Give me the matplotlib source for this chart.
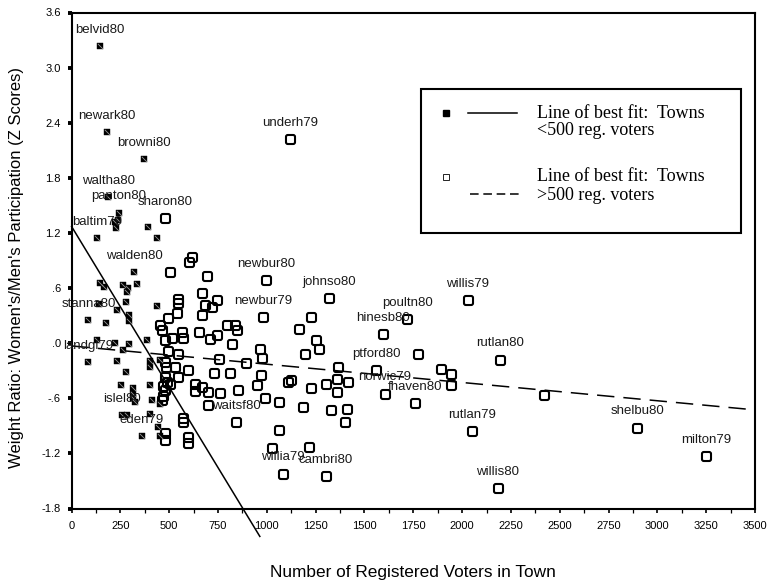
import numpy as np
import matplotlib
matplotlib.use('Agg')
import matplotlib.pyplot as plt
from matplotlib.path import Path
from matplotlib.patches import Rectangle
from matplotlib.lines import Line2D

plt.rcParams['font.family'] = ['Liberation Sans', 'DejaVu Sans']
plt.rcParams['lines.scale_dashes'] = False

# Towns with fewer than 500 registered voters (filled squares)
small_x = [146, 182, 373, 188, 243, 240, 223, 225, 129, 391, 436, 322, 146, 166,
           265, 291, 282, 337, 141, 279, 234, 436, 86, 174, 294, 296, 385, 129,
           223, 296, 265, 86, 233, 279, 402, 402, 453, 251, 402, 313, 315, 313,
           325, 410, 453, 257, 286, 402, 444, 358, 453]
small_y = [3.23, 2.30, 2.00, 1.59, 1.42, 1.34, 1.32, 1.25, 1.14, 1.27, 1.14, 0.77,
           0.66, 0.61, 0.63, 0.60, 0.56, 0.64, 0.43, 0.45, 0.36, 0.40, 0.25, 0.22,
           0.31, 0.24, 0.03, 0.03, 0.00, -0.01, -0.07, -0.21, -0.19, -0.31, -0.19,
           -0.26, -0.18, -0.45, -0.45, -0.49, -0.55, -0.60, -0.64, -0.62, -0.66,
           -0.78, -0.78, -0.77, -0.91, -1.01, -1.01]
small_labels = {0: 'belvid80', 1: 'newark80', 2: 'browni80', 3: 'waltha80',
                4: 'panton80', 8: 'baltim79', 11: 'walden80', 22: 'stanna80',
                31: 'landgl79', 45: 'islel80', 49: 'eden79'}

# Towns with more than 500 registered voters (open squares)
large_x = [1121, 478, 616, 601, 504, 694, 997, 667, 547, 547, 744, 683, 717, 538,
           666, 981, 495, 452, 461, 566, 652, 794, 836, 846, 512, 572, 478, 744,
           708, 824, 964, 495, 546, 754, 973, 892, 478, 597, 729, 811, 972, 529,
           486, 947, 853, 631, 631, 666, 700, 759, 990, 700, 1061, 469, 461, 504,
           478, 487, 469, 478, 546, 568, 568, 844, 1061, 478, 478, 597, 597, 1024,
           1215, 1083, 1302, 1319, 1225, 1164, 1251, 1267, 1194, 1123, 1109, 1183,
           1365, 1360, 1416, 1305, 1357, 1225, 1331, 1408, 1399, 1595, 1720, 2030,
           1774, 1561, 1894, 1945, 1945, 1604, 1757, 2052, 2183, 2192, 2417, 2897,
           3250]
large_y = [2.22, 1.36, 0.94, 0.88, 0.77, 0.73, 0.69, 0.55, 0.48, 0.44, 0.47, 0.42,
           0.39, 0.33, 0.31, 0.28, 0.27, 0.20, 0.14, 0.12, 0.12, 0.20, 0.20, 0.14,
           0.06, 0.06, 0.03, 0.09, 0.05, -0.01, -0.06, -0.09, -0.12, -0.17, -0.16,
           -0.22, -0.20, -0.29, -0.32, -0.33, -0.35, -0.26, -0.26, -0.46, -0.51,
           -0.44, -0.52, -0.48, -0.53, -0.54, -0.60, -0.67, -0.64, -0.58, -0.62,
           -0.44, -0.37, -0.42, -0.47, -0.51, -0.37, -0.82, -0.86, -0.86, -0.94,
           -0.98, -1.05, -1.02, -1.09, -1.14, -1.13, -1.42, -1.45, 0.49, 0.28, 0.15,
           0.03, -0.06, -0.12, -0.40, -0.42, -0.69, -0.26, -0.39, -0.42, -0.44,
           -0.53, -0.49, -0.73, -0.72, -0.86, 0.10, 0.26, 0.47, -0.12, -0.29, -0.28,
           -0.34, -0.46, -0.55, -0.65, -0.96, -1.58, -0.18, -0.56, -0.92, -1.23]
large_labels = {0: 'underh79', 1: 'sharon80', 6: 'newbur80', 15: 'newbur79',
                63: 'waitsf80', 71: 'willia79', 72: 'cambri80', 73: 'johnso80',
                91: 'hinesb80', 92: 'poultn80', 93: 'willis79', 95: 'ptford80',
                99: 'norwic79', 100: 'fhaven80', 101: 'rutlan79', 102: 'willis80',
                103: 'rutlan80', 105: 'shelbu80', 106: 'milton79'}

# Lines of best fit: intercept, slope, x range
fit_small = (1.27, -0.00350, 0, 964)
fit_large = (-0.03, -0.000199, 0, 3500)

x_ticks = list(range(0, 3501, 250))
y_ticks = [3.6, 3.0, 2.4, 1.8, 1.2, 0.6, 0.0, -0.6, -1.2, -1.8]
y_tick_labels = ['3.6', '3.0', '2.4', '1.8', '1.2', '.6', '.0', '-.6', '-1.2', '-1.8']

W, H = 770, 582


def fig_xy(px, py):
    return px / W, 1 - py / H


# rounded square marker
r = 0.4
verts = [(-1 + r, -1), (1 - r, -1), (1, -1), (1, -1 + r), (1, 1 - r), (1, 1),
         (1 - r, 1), (-1 + r, 1), (-1, 1), (-1, 1 - r), (-1, -1 + r), (-1, -1),
         (-1 + r, -1), (-1 + r, -1)]
codes = [Path.MOVETO, Path.LINETO, Path.CURVE3, Path.CURVE3, Path.LINETO,
         Path.CURVE3, Path.CURVE3, Path.LINETO, Path.CURVE3, Path.CURVE3,
         Path.LINETO, Path.CURVE3, Path.CURVE3, Path.CLOSEPOLY]
round_sq = Path(verts, codes)
diag = Path([(-1, 1), (1, -1)], [Path.MOVETO, Path.LINETO])

fig = plt.figure(figsize=(W / 100, H / 100), dpi=100)
ax = fig.add_axes([71.6 / W, 1 - 508.5 / H, (755 - 71.6) / W, (508.5 - 12.5) / H])

# fit lines
b, m, x0, x1 = fit_small
xs = np.array([x0, x1])
ax.plot(xs, b + m * xs, color='black', lw=1.1, clip_on=False, zorder=2)
b, m, x0, x1 = fit_large
xs = np.array([x0, x1])
ax.plot(xs, b + m * xs, color='black', lw=1.1, linestyle=(0, (12.5, 6.5)), zorder=2)

# points
ax.plot(small_x, small_y, linestyle='none', marker='s', ms=5.0, mfc='black',
        mec='black', mew=0.3, zorder=3)
ax.plot(small_x, small_y, linestyle='none', marker=diag, ms=3.9, mec='#9a9a9a',
        mew=0.6, zorder=4)
ax.plot(large_x, large_y, linestyle='none', marker=round_sq, ms=6.5, mfc='none',
        mec='black', mew=1.5, zorder=3)

for labels, xv, yv in [(small_labels, small_x, small_y), (large_labels, large_x, large_y)]:
    for i, name in labels.items():
        ax.annotate(name, (xv[i], yv[i]), xytext=(0, 11.7), textcoords='offset points',
                    ha='center', va='center', fontsize=9.5, color='#1a1a1a', zorder=5)

ax.set_xlim(0, 3500)
ax.set_ylim(-1.8, 3.6)
ax.set_xticks(x_ticks)
ax.set_xticklabels([str(v) for v in x_ticks])
ax.set_xticks([v + 125 for v in x_ticks[:-1]], minor=True)
ax.set_yticks(y_ticks)
ax.set_yticklabels(y_tick_labels)
ax.tick_params(axis='x', which='major', direction='out', length=3, width=1.2,
               pad=6, labelsize=8)
ax.tick_params(axis='x', which='minor', direction='out', length=3, width=0.9)
ax.tick_params(axis='y', which='major', direction='out', length=2.8, width=2.8,
               pad=5, labelsize=8)
for s in ax.spines.values():
    s.set_linewidth(1.5)

fig.text(*fig_xy(413, 572), 'Number of Registered Voters in Town', ha='center',
         va='center', fontsize=12.4)
fig.text(*fig_xy(17, 268), "Weight Ratio: Women's/Men's Participation (Z Scores)",
         ha='center', va='center', rotation=90, fontsize=12)

# legend box
lx0, ly0 = fig_xy(420.7, 232.7)
lx1, ly1 = fig_xy(741, 89)
fig.add_artist(Rectangle((lx0, ly0), lx1 - lx0, ly1 - ly0, transform=fig.transFigure,
                         fill=False, lw=1.5, edgecolor='black', zorder=6))
mx, my = fig_xy(446, 112.7)
fig.add_artist(Line2D([mx], [my], transform=fig.transFigure, marker='s', ms=5,
                      mfc='black', mec='black', linestyle='none'))
a, yy = fig_xy(468.3, 112.7)
c, _ = fig_xy(516.7, 112.7)
fig.add_artist(Line2D([a, c], [yy, yy], transform=fig.transFigure, color='black', lw=1.1))
mx, my = fig_xy(446, 177.3)
fig.add_artist(Line2D([mx], [my], transform=fig.transFigure, marker='s', ms=5,
                      mfc='white', mec='black', mew=0.6, linestyle='none'))
a, yy = fig_xy(470, 194)
c, _ = fig_xy(520, 194)
fig.add_artist(Line2D([a, c], [yy, yy], transform=fig.transFigure, color='black', lw=1.1,
                      linestyle=(0, (6.2, 3.4))))
for py, txt in [(113, 'Line of best fit:  Towns'), (130.7, '<500 reg. voters'),
                (176.7, 'Line of best fit:  Towns'), (196, '>500 reg. voters')]:
    fig.text(*fig_xy(536.7, py), txt, ha='left', va='center', fontsize=13,
             family=['Liberation Serif', 'DejaVu Serif'])

fig.savefig('out.png', dpi=100)
